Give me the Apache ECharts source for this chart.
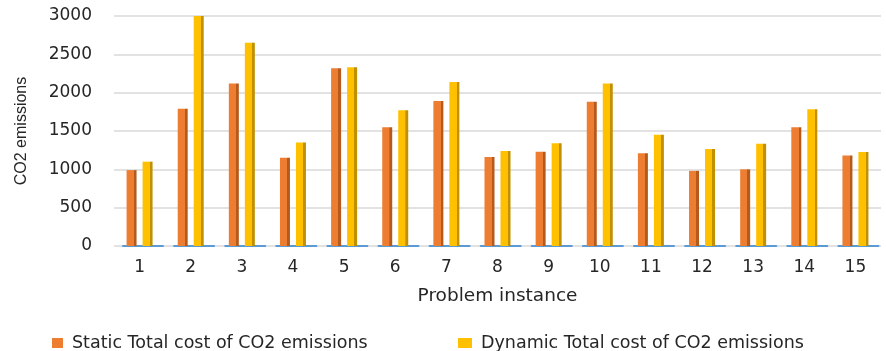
<!DOCTYPE html>
<html>
<head>
<meta charset="utf-8">
<script src="https://cdn.jsdelivr.net/npm/echarts@6/dist/echarts.min.js"></script>
<style>html,body{margin:0;padding:0;background:#fff;}#c{width:886px;height:351px;}</style>
</head>
<body>
<div id="c"></div>
<script>
var categories = ['1','2','3','4','5','6','7','8','9','10','11','12','13','14','15'];
var staticCost = [990, 1790, 2120, 1150, 2320, 1550, 1890, 1160, 1230, 1880, 1210, 980, 1000, 1550, 1180];
var dynamicCost = [1100, 3000, 2650, 1350, 2330, 1770, 2140, 1240, 1340, 2120, 1450, 1265, 1335, 1785, 1225];
var yTicks = [0, 500, 1000, 1500, 2000, 2500, 3000];
var seriesNames = ['Static Total cost of CO2 emissions', 'Dynamic Total cost of CO2 emissions'];

function grad(main, dark) {
  return new echarts.graphic.LinearGradient(0, 0, 1, 0, [
    {offset: 0, color: main}, {offset: 0.72, color: main},
    {offset: 0.73, color: dark}, {offset: 1, color: dark}
  ]);
}
var chart = echarts.init(document.getElementById('c'));
var tickFont = 'DejaVu Sans';
var legendText = {fontFamily: tickFont, fontSize: 17.5, color: '#262626', padding: [0, 0, 0, 4]};
chart.setOption({
  animation: false,
  backgroundColor: '#ffffff',
  grid: {left: 114, right: 5, top: 16, bottom: 105},
  legend: [
    {data: [{name: seriesNames[0], itemStyle: {color: '#ED7D31'}}],
     left: 52, top: 334, padding: 0, itemWidth: 11, itemHeight: 10, icon: 'rect', textStyle: legendText},
    {data: [{name: seriesNames[1], itemStyle: {color: '#FFC000'}}],
     left: 458, top: 334, padding: 0, itemWidth: 14, itemHeight: 10, icon: 'rect', textStyle: legendText}
  ],
  xAxis: {
    type: 'category',
    data: categories,
    name: 'Problem instance',
    nameLocation: 'middle',
    nameGap: 41,
    nameTextStyle: {fontFamily: tickFont, fontSize: 18.5, color: '#262626'},
    axisTick: {show: false},
    axisLine: {show: true, lineStyle: {color: '#5B9BD5', width: 2, type: [40, 11.1], dashOffset: -9}},
    axisLabel: {fontFamily: tickFont, fontSize: 17, color: '#262626', margin: 13}
  },
  yAxis: {
    type: 'value',
    min: yTicks[0], max: yTicks[yTicks.length - 1], interval: yTicks[1] - yTicks[0],
    name: 'CO2 emissions',
    nameLocation: 'middle',
    nameGap: 84,
    nameRotate: 90,
    nameTextStyle: {fontFamily: 'Liberation Sans', fontSize: 16, color: '#262626'},
    axisLine: {show: false},
    axisTick: {show: false},
    splitLine: {lineStyle: {color: '#D9D9D9', width: 1.5}},
    axisLabel: {fontFamily: tickFont, fontSize: 17, color: '#262626', margin: 22,
                formatter: function (v) { return String(v); }}
  },
  series: [
    {name: seriesNames[0], type: 'bar', data: staticCost, barWidth: 10, barGap: '60%',
     itemStyle: {color: grad('#ED7D31', '#B65A1C')}},
    {name: seriesNames[1], type: 'bar', data: dynamicCost, barWidth: 10,
     itemStyle: {color: grad('#FFC000', '#C09000')}}
  ]
});
</script>
</body>
</html>
